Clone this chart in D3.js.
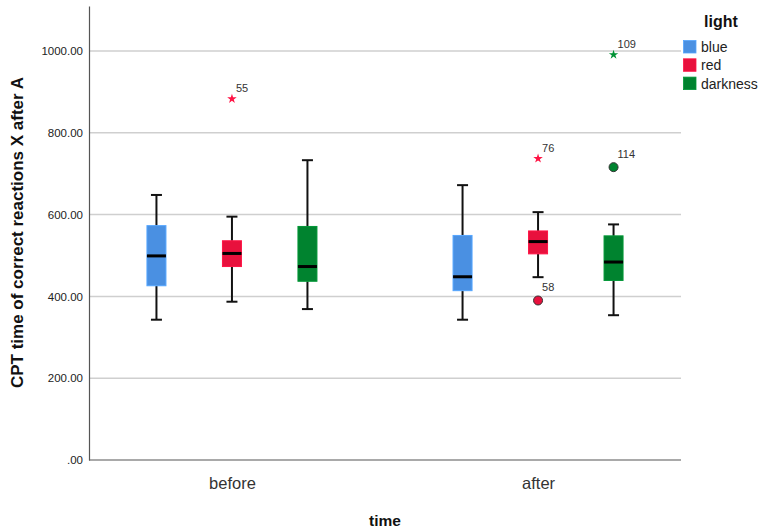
<!DOCTYPE html>
<html>
<head>
<meta charset="utf-8">
<script src="https://cdn.jsdelivr.net/npm/d3@7"></script>
<style>
  html, body { margin: 0; padding: 0; background: #fff; }
  svg { display: block; font-family: "Liberation Sans", Arial, sans-serif; }
</style>
</head>
<body>
<svg id="chart" width="761" height="532"></svg>
<script>
// ---- data ----
const times = ["before", "after"];
const lights = ["blue", "red", "darkness"];
const lightColors = ["#4a90e2", "#e8113d", "#00832f"];
const yTicks = [0, 200, 400, 600, 800, 1000];

// per light: values for [before, after]
const whiskerLow  = { blue: [343, 343], red: [387, 447], darkness: [369, 354] };
const q1          = { blue: [426, 414], red: [473, 504], darkness: [437, 439] };
const median      = { blue: [499, 448], red: [505, 534], darkness: [473, 484] };
const q3          = { blue: [573, 549], red: [536, 560], darkness: [571, 548] };
const whiskerHigh = { blue: [648, 672], red: [595, 606], darkness: [733, 576] };

// outliers
const outTime  = ["before", "after", "after", "after", "after"];
const outLight = ["red", "red", "red", "darkness", "darkness"];
const outValue = [883, 737, 390, 991, 716];
const outId    = ["55", "76", "58", "109", "114"];
const outKind  = ["extreme", "extreme", "outlier", "extreme", "outlier"];

// ---- layout ----
const svg = d3.select("#chart");
const mLeft = 89, mRight = 681, mTop = 6, mBottom = 460;

const y = d3.scaleLinear().domain([0, 1110]).range([mBottom, mTop]);
const x = d3.scalePoint().domain(times).range([mLeft, mRight]).padding(0.467);
const xi = d3.scalePoint().domain(lights).range([-75.5, 75.5]);
const color = d3.scaleOrdinal().domain(lights).range(lightColors);
const boxW = 19, capW = 11;

// gridlines
svg.append("g").selectAll("line")
  .data(yTicks.filter(d => d > 0))
  .join("line")
  .attr("x1", mLeft).attr("x2", mRight)
  .attr("y1", d => y(d)).attr("y2", d => y(d))
  .attr("stroke", "#cfcfcf").attr("stroke-width", 1.5);

// y axis
const yAxis = svg.append("g")
  .attr("transform", `translate(${mLeft},0)`)
  .call(d3.axisLeft(y).tickValues(yTicks).tickSize(0).tickPadding(6)
        .tickFormat(d => d === 0 ? ".00" : d3.format(".2f")(d)));
yAxis.select(".domain").attr("stroke", "#555").attr("stroke-width", 1.2);
yAxis.selectAll("text").attr("font-size", 11.5).attr("fill", "#222")
  .attr("font-family", "'Liberation Sans', Arial, sans-serif");

// x axis
const xAxis = svg.append("g")
  .attr("transform", `translate(0,${mBottom})`)
  .call(d3.axisBottom(x).tickSize(0).tickPadding(17));
xAxis.select(".domain").attr("d", `M${mLeft},0H${mRight}`).attr("stroke", "#555").attr("stroke-width", 1.2);
xAxis.selectAll("text").attr("font-size", 16.5).attr("fill", "#333")
  .attr("font-family", "'Liberation Sans', Arial, sans-serif");

// axis titles
svg.append("text")
  .attr("transform", `translate(23,${(78 + 387) / 2}) rotate(-90)`)
  .attr("text-anchor", "middle")
  .attr("font-size", 17).attr("font-weight", "bold").attr("fill", "#111")
  .text("CPT time of correct reactions X after A");
svg.append("text")
  .attr("x", 385).attr("y", 526)
  .attr("text-anchor", "middle")
  .attr("font-size", 15.5).attr("font-weight", "bold").attr("fill", "#111")
  .text("time");

// boxes
const boxes = [];
lights.forEach(l => times.forEach((t, i) => boxes.push({
  light: l, time: t,
  lo: whiskerLow[l][i], q1: q1[l][i], med: median[l][i], q3: q3[l][i], hi: whiskerHigh[l][i]
})));

const g = svg.append("g").selectAll("g").data(boxes).join("g")
  .attr("transform", d => `translate(${x(d.time) + xi(d.light)},0)`);

g.append("line").attr("x1", 0).attr("x2", 0)
  .attr("y1", d => y(d.hi)).attr("y2", d => y(d.q3))
  .attr("stroke", "#111").attr("stroke-width", 2);
g.append("line").attr("x1", 0).attr("x2", 0)
  .attr("y1", d => y(d.q1)).attr("y2", d => y(d.lo))
  .attr("stroke", "#111").attr("stroke-width", 2);
g.append("line").attr("x1", -capW / 2).attr("x2", capW / 2)
  .attr("y1", d => y(d.hi)).attr("y2", d => y(d.hi))
  .attr("stroke", "#111").attr("stroke-width", 2);
g.append("line").attr("x1", -capW / 2).attr("x2", capW / 2)
  .attr("y1", d => y(d.lo)).attr("y2", d => y(d.lo))
  .attr("stroke", "#111").attr("stroke-width", 2);
g.append("rect")
  .attr("x", -boxW / 2).attr("width", boxW)
  .attr("y", d => y(d.q3)).attr("height", d => y(d.q1) - y(d.q3))
  .attr("fill", d => color(d.light))
  .attr("stroke", d => d3.color(color(d.light)).brighter(0.4))
  .attr("stroke-width", 1);
g.append("line").attr("x1", -boxW / 2).attr("x2", boxW / 2)
  .attr("y1", d => y(d.med)).attr("y2", d => y(d.med))
  .attr("stroke", "#000").attr("stroke-width", 3);

// outliers
const outs = outValue.map((v, i) => ({ t: outTime[i], l: outLight[i], v, id: outId[i], k: outKind[i] }));
const og = svg.append("g").selectAll("g").data(outs).join("g")
  .attr("transform", d => `translate(${x(d.t) + xi(d.l)},${y(d.v)})`);
og.filter(d => d.k === "outlier").append("circle")
  .attr("r", 4.5)
  .attr("fill", d => color(d.l))
  .attr("stroke", "#333").attr("stroke-width", 1);
og.filter(d => d.k === "extreme").append("path")
  .attr("d", d3.symbol(d3.symbolStar, 28))
  .attr("fill", d => d3.color(color(d.l)).brighter(0.3));
og.append("text")
  .attr("x", 4).attr("y", d => d.k === "extreme" ? -7 : -9)
  .attr("font-size", 11).attr("fill", "#333")
  .text(d => d.id);

// legend
const lg = svg.append("g");
lg.append("text").attr("x", 721).attr("y", 27)
  .attr("text-anchor", "middle")
  .attr("font-size", 16).attr("font-weight", "bold").attr("fill", "#111")
  .text("light");
const li = lg.selectAll("g").data(lights).join("g")
  .attr("transform", (d, i) => `translate(683.5,${40.5 + i * 18.3})`);
li.append("rect").attr("width", 12.5).attr("height", 12.5)
  .attr("fill", d => color(d))
  .attr("stroke", d => d3.color(color(d)).brighter(0.4)).attr("stroke-width", 0.8);
li.append("text").attr("x", 17.5).attr("y", 11.5)
  .attr("font-size", 14).attr("fill", "#222")
  .text(d => d);
</script>
</body>
</html>
